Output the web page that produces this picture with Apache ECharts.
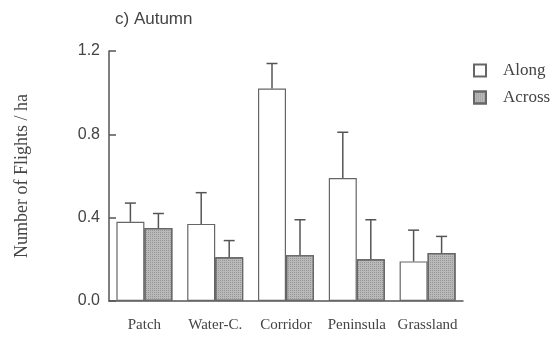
<!DOCTYPE html>
<html>
<head>
<meta charset="utf-8">
<script src="https://cdn.jsdelivr.net/npm/echarts@6/dist/echarts.min.js"></script>
<style>
html,body{margin:0;padding:0;background:#fff;}
#chart{width:558px;height:339px;}
</style>
</head>
<body>
<div id="chart"></div>
<script>
var categories = ['Patch', 'Water-C.', 'Corridor', 'Peninsula', 'Grassland'];
var alongValues = [0.38, 0.37, 1.02, 0.59, 0.19];
var alongErrors = [0.09, 0.15, 0.12, 0.22, 0.15];
var acrossValues = [0.35, 0.21, 0.22, 0.20, 0.23];
var acrossErrors = [0.07, 0.08, 0.17, 0.19, 0.08];
var yTicks = [0, 0.4, 0.8, 1.2];

var BAR_W = 28;
var TEXT = '#444';
var LINE = '#555';

function errorSeries(values, errors, side) {
  var data = values.map(function (v, i) { return [i, v, v + errors[i]]; });
  return {
    type: 'custom',
    z: 5,
    silent: true,
    data: data,
    renderItem: function (params, api) {
      var idx = api.value(0);
      var base = api.coord([idx, api.value(1)]);
      var top = api.coord([idx, api.value(2)]);
      var x = base[0] + side * BAR_W / 2;
      var cap = 5.5;
      return {
        type: 'group',
        children: [
          { type: 'line', shape: { x1: x, y1: base[1], x2: x, y2: top[1] }, style: { stroke: LINE, lineWidth: 1.5 } },
          { type: 'line', shape: { x1: x - cap, y1: top[1], x2: x + cap, y2: top[1] }, style: { stroke: LINE, lineWidth: 1.5 } }
        ]
      };
    }
  };
}

var chart = echarts.init(document.getElementById('chart'), null, { renderer: 'canvas' });
chart.setOption({
  animation: false,
  backgroundColor: '#fff',
  title: {
    text: 'c) Autumn',
    left: 110, top: 6,
    textStyle: { fontFamily: 'Liberation Sans', fontSize: 17, fontWeight: 'normal', color: TEXT }
  },
  legend: {
    orient: 'vertical',
    left: 473, top: 62,
    padding: 0,
    icon: 'rect',
    itemWidth: 12, itemHeight: 12,
    itemGap: 10,
    textStyle: { fontFamily: 'Liberation Serif', fontSize: 17, color: TEXT, padding: [0, 0, 0, 12] },
    data: ['Along', 'Across']
  },
  grid: { left: 109, right: 95, top: 51, bottom: 38 },
  xAxis: {
    type: 'category',
    data: categories,
    axisLine: { lineStyle: { color: LINE, width: 1.5 } },
    axisTick: { alignWithLabel: true, length: 5, lineStyle: { color: LINE, width: 1.5 } },
    axisLabel: { interval: 0, fontFamily: 'Liberation Serif', fontSize: 15, color: TEXT, margin: 17 }
  },
  yAxis: {
    type: 'value',
    min: 0, max: 1.2, interval: 0.4,
    name: 'Number of Flights / ha',
    nameLocation: 'middle',
    nameGap: 78,
    nameTextStyle: { fontFamily: 'Liberation Serif', fontSize: 18, color: TEXT },
    axisLine: { show: true, lineStyle: { color: LINE, width: 1.5 } },
    axisTick: { show: true, inside: true, length: 7, lineStyle: { color: LINE, width: 1.5 } },
    splitLine: { show: false },
    axisLabel: {
      fontFamily: 'Liberation Sans', fontSize: 16, color: TEXT, margin: 9,
      formatter: function (v) { return yTicks.indexOf(v) >= 0 ? v.toFixed(1) : ''; }
    }
  },
  series: [
    {
      name: 'Along', type: 'bar', data: alongValues,
      barWidth: BAR_W, barGap: '0%',
      itemStyle: { color: '#ffffff', borderColor: '#666', borderWidth: 1.2 }
    },
    {
      name: 'Across', type: 'bar', data: acrossValues,
      barWidth: BAR_W,
      itemStyle: {
        color: '#b9b9b9', borderColor: '#666', borderWidth: 1.2,
        decal: { symbol: 'rect', symbolSize: 1, dashArrayX: [1, 1], dashArrayY: [1, 1], color: 'rgba(90,90,90,0.35)' }
      }
    },
    errorSeries(alongValues, alongErrors, -1),
    errorSeries(acrossValues, acrossErrors, 1)
  ]
});
</script>
</body>
</html>
